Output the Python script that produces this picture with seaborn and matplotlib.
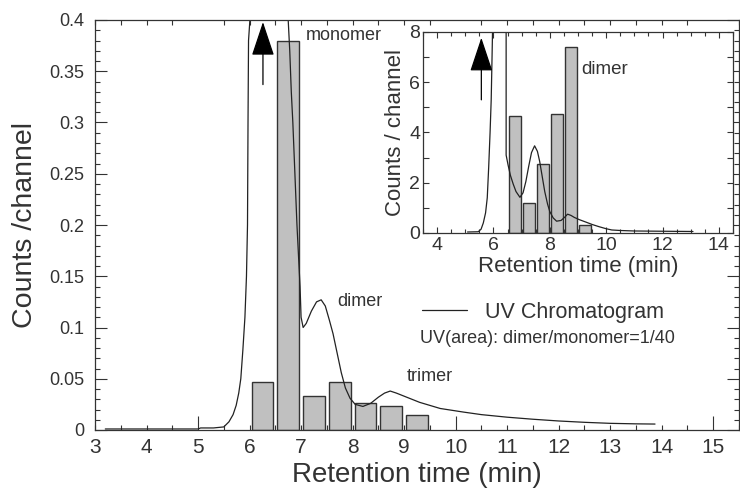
import matplotlib
matplotlib.use("Agg")
import matplotlib.pyplot as plt
import seaborn as sns
from matplotlib.ticker import MultipleLocator, FixedLocator, FuncFormatter

# Main panel: radioactivity counts per fraction (min) and UV trace
bar_t = [6.25, 6.75, 7.25, 7.75, 8.25, 8.75, 9.25]
bar_counts = [0.047, 0.380, 0.033, 0.047, 0.026, 0.023, 0.015]

uv_t = [3.2, 4.0, 5.0, 5.05, 5.3, 5.5, 5.6, 5.68, 5.74, 5.79, 5.83, 5.87, 5.91,
        5.94, 5.96, 5.97, 5.98, 6.02, 6.3, 6.74, 6.75, 6.78, 6.81, 6.84, 6.88,
        6.92, 6.95, 6.98, 7.0, 7.04, 7.1, 7.2, 7.3, 7.39, 7.47, 7.55, 7.62, 7.7,
        7.78, 7.86, 7.95, 8.05, 8.2, 8.35, 8.5, 8.62, 8.73, 8.85, 9.0, 9.3, 9.7,
        10.15, 10.5, 11.0, 11.5, 12.0, 12.5, 13.0, 13.5, 13.87]
uv_y = [0.001, 0.001, 0.001, 0.002, 0.002, 0.003, 0.008, 0.015, 0.024, 0.036,
        0.05, 0.078, 0.11, 0.15, 0.2, 0.3, 0.38, 0.41, 2.2, 0.42, 0.40, 0.37,
        0.33, 0.30, 0.25, 0.20, 0.17, 0.14, 0.11, 0.10, 0.104, 0.116, 0.125,
        0.127, 0.121, 0.107, 0.094, 0.075, 0.056, 0.041, 0.031, 0.025, 0.023,
        0.026, 0.032, 0.036, 0.038, 0.036, 0.033, 0.027, 0.021, 0.0175, 0.015,
        0.0125, 0.0105, 0.0088, 0.0075, 0.0065, 0.006, 0.0058]

# Inset panel
ins_bar_t = [6.75, 7.25, 7.75, 8.25, 8.75, 9.25]
ins_bar_counts = [4.66, 1.2, 2.74, 4.73, 7.42, 0.3]

ins_uv_t = [5.08, 5.46, 5.56, 5.64, 5.72, 5.78, 5.83, 5.88, 5.92, 5.95, 5.97,
            6.2, 6.45, 6.45, 6.52, 6.6, 6.7, 6.8, 6.94, 7.05, 7.15, 7.25, 7.35,
            7.46, 7.56, 7.64, 7.73, 7.82, 7.92, 8.0, 8.12, 8.24, 8.4, 8.52, 8.63,
            8.75, 8.87, 9.05, 9.29, 9.5, 9.75, 10.0, 10.2, 10.5, 11.0, 12.0, 13.08]
ins_uv_y = [0.04, 0.05, 0.15, 0.4, 0.8, 1.4, 2.6, 4.0, 5.3, 7.0, 8.2, 30.0, 8.2,
            3.1, 2.7, 2.3, 1.95, 1.65, 1.42, 1.6, 2.05, 2.65, 3.2, 3.47, 3.25,
            2.85, 2.25, 1.65, 1.15, 0.85, 0.6, 0.47, 0.5, 0.62, 0.75, 0.7, 0.62,
            0.53, 0.43, 0.34, 0.25, 0.17, 0.12, 0.1, 0.08, 0.07, 0.06]

ink = "#333333"
bar_fill = "#c0c0c0"

sns.set_theme(style="ticks")
plt.rcParams["font.family"] = ["Liberation Sans", "DejaVu Sans"]
plt.rcParams["text.color"] = ink
plt.rcParams["axes.labelcolor"] = ink
plt.rcParams["axes.edgecolor"] = ink
plt.rcParams["axes.linewidth"] = 0.9

fig = plt.figure(figsize=(7.4, 4.95), dpi=100)
ax = fig.add_axes([95 / 740, 1 - 430 / 495, 644 / 740, 410 / 495])

sns.barplot(x=bar_t, y=bar_counts, native_scale=True, width=0.84,
            color=bar_fill, saturation=1, edgecolor=ink, linewidth=1,
            errorbar=None, ax=ax)
sns.lineplot(x=uv_t, y=uv_y, sort=False, estimator=None, color="#222222",
             linewidth=0.9, ax=ax, label="UV Chromatogram")

ax.set_xlim(3, 15.5)
ax.set_ylim(0, 0.4)

ax.xaxis.set_major_locator(FixedLocator([5, 10, 15]))
ax.xaxis.set_minor_locator(MultipleLocator(0.5))
ax.xaxis.set_major_formatter(FuncFormatter(lambda v, p: f"{v:g}"))
ax.xaxis.set_minor_formatter(
    FuncFormatter(lambda v, p: f"{v:g}" if abs(v - round(v)) < 1e-6 else ""))
ax.yaxis.set_major_locator(MultipleLocator(0.05))
ax.yaxis.set_minor_locator(MultipleLocator(0.01))
ax.yaxis.set_major_formatter(FuncFormatter(lambda v, p: f"{v:g}"))

ax.tick_params(axis="x", which="both", direction="in", labelsize=15, pad=5.5,
               colors=ink, width=0.8, top=True)
ax.tick_params(axis="x", which="major", length=10, top=False)
ax.tick_params(axis="x", which="minor", length=3.5, labelbottom=True)
ax.tick_params(axis="y", which="both", direction="in", labelsize=13, pad=8,
               colors=ink, width=0.8, right=True)
ax.tick_params(axis="y", which="major", length=8.5)
ax.tick_params(axis="y", which="minor", length=3.6)

ax.set_xlabel("Retention time (min)", fontsize=20, labelpad=3.5)
ax.set_ylabel("Counts /channel", fontsize=20.5, labelpad=8)

ax.annotate("", xy=(6.26, 0.398), xytext=(6.26, 0.337),
            arrowprops=dict(arrowstyle="-|>,head_length=1.08,head_width=0.36",
                            color="black", lw=0.9, shrinkA=0, shrinkB=0,
                            mutation_scale=20))
ax.text(7.10, 0.385, "monomer", fontsize=13, va="center")
ax.text(7.70, 0.125, "dimer", fontsize=13, va="center")
ax.text(9.06, 0.052, "trimer", fontsize=13, va="center")
ax.text(9.31, 0.089, "UV(area): dimer/monomer=1/40", fontsize=13, va="center")
ax.legend(loc="center left", bbox_to_anchor=(9.35, 0.115),
          bbox_transform=ax.transData, frameon=False, borderpad=0,
          borderaxespad=0, handlelength=2.1, handletextpad=0.8, fontsize=15.5)

# inset
axin = fig.add_axes([423 / 740, 1 - 233 / 495, 310 / 740, 201 / 495])
axin.set_facecolor("white")
sns.barplot(x=ins_bar_t, y=ins_bar_counts, native_scale=True, width=0.84,
            color=bar_fill, saturation=1, edgecolor=ink, linewidth=1,
            errorbar=None, ax=axin)
sns.lineplot(x=ins_uv_t, y=ins_uv_y, sort=False, estimator=None,
             color="#222222", linewidth=0.9, ax=axin)
axin.set_xlim(3.5, 14.5)
axin.set_ylim(0, 8)
axin.xaxis.set_major_locator(MultipleLocator(2))
axin.xaxis.set_minor_locator(MultipleLocator(0.5))
axin.yaxis.set_major_locator(MultipleLocator(2))
axin.yaxis.set_minor_locator(MultipleLocator(1))
axin.tick_params(which="both", direction="in", top=True, right=True,
                 colors=ink, width=0.8, labelsize=14)
axin.tick_params(axis="x", which="major", length=4, pad=3)
axin.tick_params(axis="x", which="minor", length=3)
axin.tick_params(axis="y", which="both", length=4, pad=2)
axin.set_xlabel("Retention time (min)", fontsize=16, labelpad=1)
axin.set_ylabel("Counts / channel", fontsize=16, labelpad=2)

axin.annotate("", xy=(5.57, 7.77), xytext=(5.57, 5.3),
              arrowprops=dict(arrowstyle="-|>,head_length=1.08,head_width=0.36",
                              color="black", lw=0.9, shrinkA=0, shrinkB=0,
                              mutation_scale=20))
axin.text(9.11, 6.5, "dimer", fontsize=13.5, va="center")

fig.savefig("out.png", dpi=100)
